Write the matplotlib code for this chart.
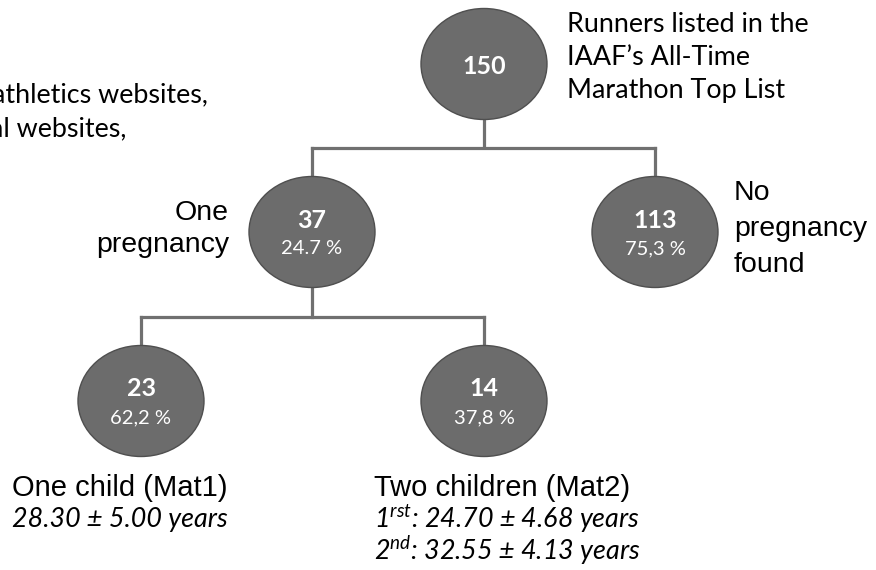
import matplotlib
matplotlib.use("Agg")
import matplotlib.pyplot as plt
from matplotlib.patches import Ellipse

# ---- data ----
node_counts = ["150", "37", "113", "23", "14"]
node_percents = ["", "24.7 %", "75,3 %", "62,2 %", "37,8 %"]
node_x = [484, 312, 655, 141, 484]
node_y = [64, 232, 232, 401, 401]
top_label = ["Runners listed in the", "IAAF\u2019s All-Time", "Marathon Top List"]
left_cut_text = ["athletics websites,", "al websites,"]
one_preg_label = ["One", "pregnancy"]
no_preg_label = ["No", "pregnancy", "found"]
mat1_title = "One child (Mat1)"
mat1_age = "28.30 \u00b1 5.00 years"
mat2_title = "Two children (Mat2)"
mat2_ages = [("1", "rst", ": 24.70 \u00b1 4.68 years"), ("2", "nd", ": 32.55 \u00b1 4.13 years")]

W, H = 876, 570
fig = plt.figure(figsize=(W / 100, H / 100), dpi=100)
ax = fig.add_axes([0, 0, 1, 1])
ax.set_xlim(0, W)
ax.set_ylim(H, 0)
ax.axis("off")

line_col = "#707070"
lw = 2.3
# connectors
ax.plot([node_x[0], node_x[0]], [node_y[0] + 54, 148], color=line_col, lw=lw, solid_capstyle="butt")
ax.plot([node_x[1], node_x[2]], [148, 148], color=line_col, lw=lw, solid_capstyle="projecting")
ax.plot([node_x[1], node_x[1]], [148, node_y[1] - 55], color=line_col, lw=lw)
ax.plot([node_x[2], node_x[2]], [148, node_y[2] - 55], color=line_col, lw=lw)
ax.plot([node_x[1], node_x[1]], [node_y[1] + 55, 317], color=line_col, lw=lw)
ax.plot([node_x[3], node_x[4]], [317, 317], color=line_col, lw=lw, solid_capstyle="projecting")
ax.plot([node_x[3], node_x[3]], [317, node_y[3] - 55], color=line_col, lw=lw)
ax.plot([node_x[4], node_x[4]], [317, node_y[4] - 55], color=line_col, lw=lw)

ew, eh = 126, 111
for i in range(len(node_counts)):
    ax.add_patch(Ellipse((node_x[i], node_y[i]), ew, eh, facecolor="#6c6c6c",
                         edgecolor="#4f4f4f", lw=1.0, zorder=3))
    if node_percents[i]:
        ax.text(node_x[i], node_y[i] - 12, node_counts[i], ha="center", va="center",
                color="white", fontsize=18, fontweight="bold", family="Lato", zorder=4)
        ax.text(node_x[i], node_y[i] + 17, node_percents[i], ha="center", va="center",
                color="white", fontsize=14.5, family="Lato", zorder=4)
    else:
        ax.text(node_x[i], node_y[i] + 2, node_counts[i], ha="center", va="center",
                color="white", fontsize=18, fontweight="bold", family="Lato", zorder=4)

# top label
for k, s in enumerate(top_label):
    ax.text(567, 32 + 33 * k, s, ha="left", va="baseline", fontsize=19.4, family="Lato", color="black")

# cut-off left text (clipped at the left edge, as in the reference)
ax.text(208, 102, left_cut_text[0], ha="right", va="baseline", fontsize=19.4, family="Lato", color="black")
ax.text(126, 136, left_cut_text[1], ha="right", va="baseline", fontsize=19.4, family="Lato", color="black")

# one pregnancy
ax.text(229, 220, one_preg_label[0], ha="right", va="baseline", fontsize=20.5, family="Liberation Sans")
ax.text(229, 252, one_preg_label[1], ha="right", va="baseline", fontsize=20.5, family="Liberation Sans")

# no pregnancy found
for k, s in enumerate(no_preg_label):
    ax.text(734, 200 + 36 * k, s, ha="left", va="baseline", fontsize=20.5, family="Liberation Sans")

# bottom labels
ax.text(12, 496, mat1_title, ha="left", va="baseline", fontsize=21, family="Liberation Sans")
ax.text(12, 527, mat1_age, ha="left", va="baseline", fontsize=19.4, family="Lato", style="italic")
ax.text(374, 496, mat2_title, ha="left", va="baseline", fontsize=21, family="Liberation Sans")
for k, (a, sup, rest) in enumerate(mat2_ages):
    y = 528 + 32 * k
    ax.text(374, y, a + "$^{\\mathregular{" + sup + "}}$" + rest, ha="left", va="baseline",
            fontsize=19.4, family="Lato", style="italic")

fig.savefig("out.png", dpi=100)
